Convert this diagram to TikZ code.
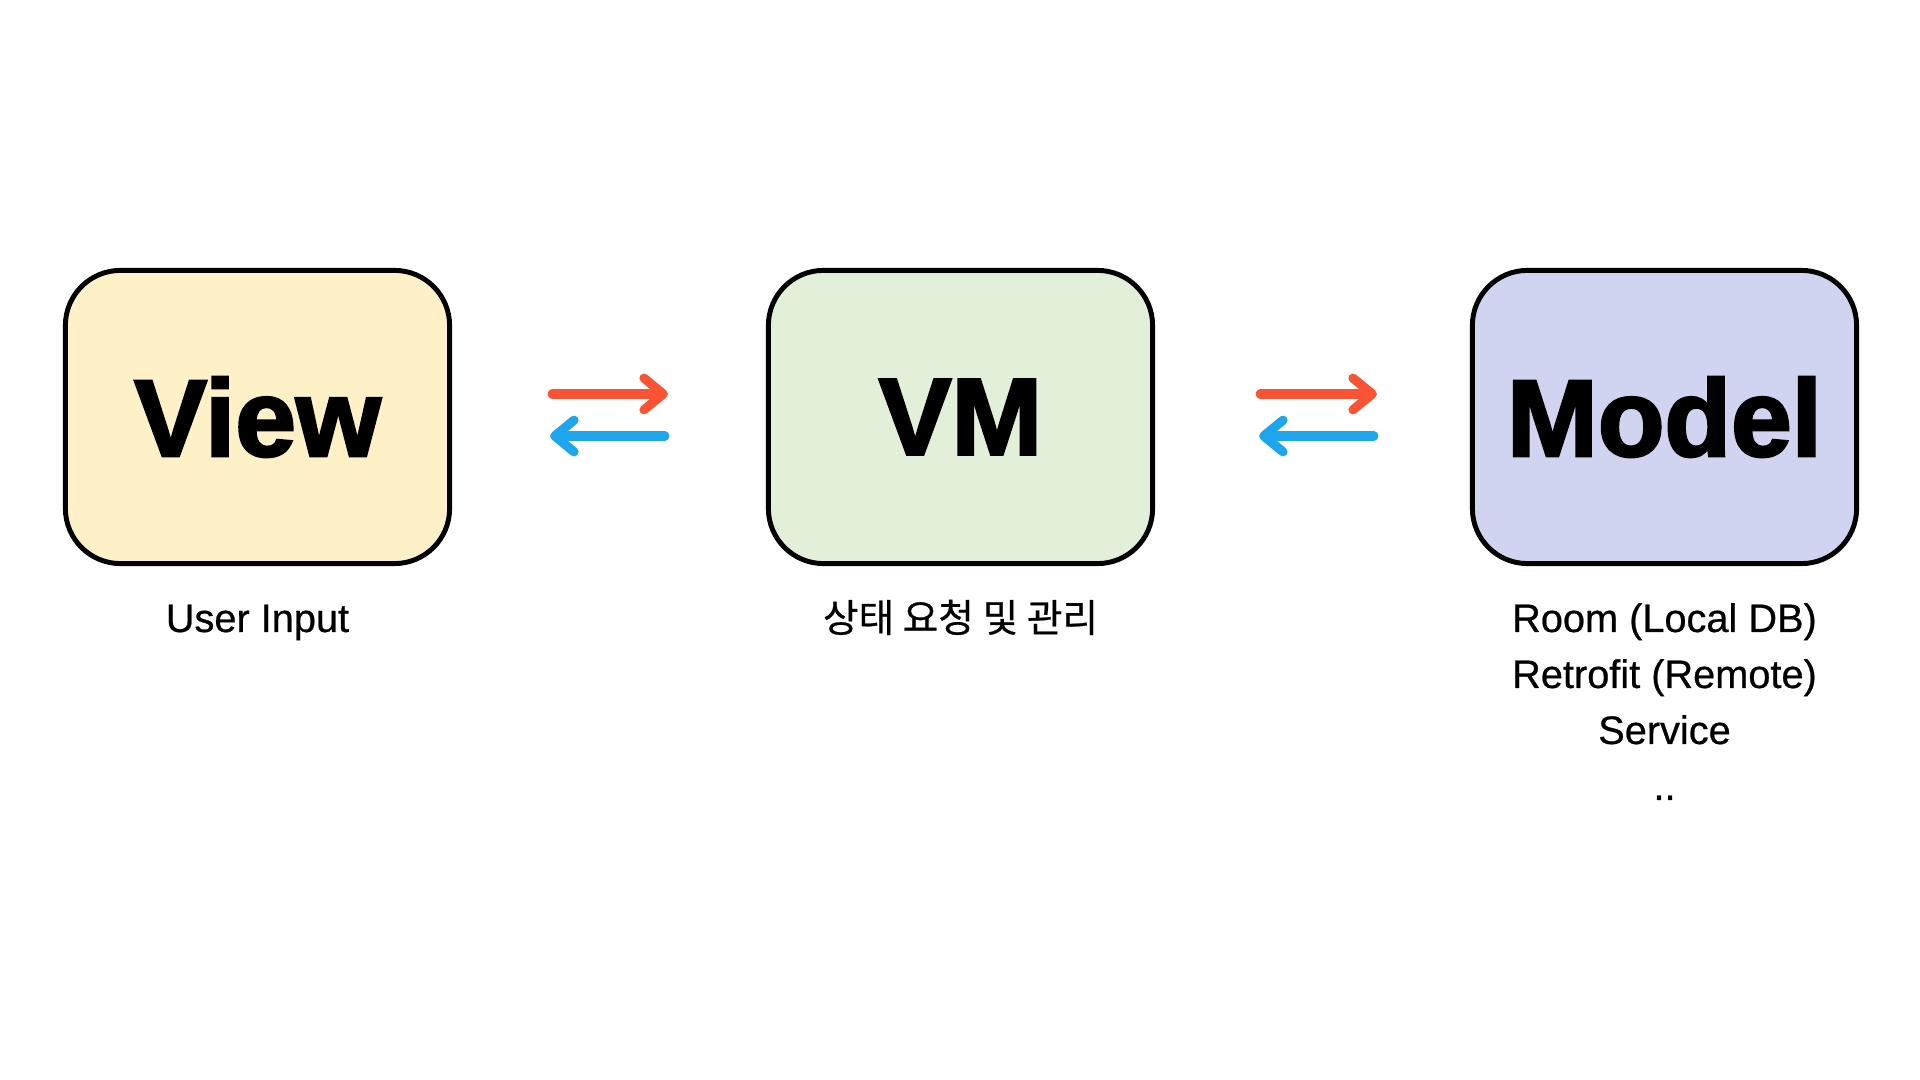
\documentclass[tikz,border=0pt]{standalone}
\usepackage{fontspec}
\usetikzlibrary{arrows.meta}
\newfontfamily\heavyfont[FakeBold=2.5]{Liberation Sans}
\newfontfamily\labelfont[FakeBold=0.6]{Liberation Sans}
\newfontfamily\cjkfont[FakeBold=0.6]{Noto Sans CJK KR}
\definecolor{viewfill}{HTML}{FEF0C7}
\definecolor{vmfill}{HTML}{E2F0D9}
\definecolor{modelfill}{HTML}{D0D4F0}
\definecolor{fwdred}{HTML}{FA5333}
\definecolor{backblue}{HTML}{1DA5EE}
\begin{document}
\begin{tikzpicture}[x=0.01cm,y=-0.01cm,
  box/.style={draw=black, line width=1.4pt, rounded corners=0.55cm,
    minimum width=3.84cm, minimum height=2.93cm, inner sep=0pt,
    font=\heavyfont\bfseries\fontsize{31}{31}\selectfont},
  lbl/.style={anchor=base, inner sep=0pt, font=\labelfont\fontsize{11.3}{16}\selectfont},
  klbl/.style={anchor=base, inner sep=0pt, font=\cjkfont\fontsize{11}{16}\selectfont},
  fwd/.style={draw=fwdred, line width=2.6pt, line cap=round,
    -{Straight Barb[length=5.5pt,width=9pt,line cap=round,line join=round]}},
  back/.style={draw=backblue, line width=2.6pt, line cap=round,
    -{Straight Barb[length=5.5pt,width=9pt,line cap=round,line join=round]}}
]
\useasboundingbox (0,0) rectangle (1920,1080);
\fill[white] (0,0) rectangle (1920,1080);

\node[box, fill=viewfill] (view) at (257.5,417) {View};
\node[box, fill=vmfill] (vm) at (960.5,417) {VM};
\node[box, fill=modelfill] (model) at (1664.5,417) {Model};

\node[lbl] (viewlbl) at (257.5,632) {User Input};
\node[klbl] (vmlbl) at (960.5,632) {상태 요청 및 관리};
\node[lbl] (m1) at (1664.5,632) {Room (Local DB)};
\node[lbl] (m2) at (1664.5,688) {Retrofit (Remote)};
\node[lbl] (m3) at (1664.5,744) {Service};
\node[lbl] (m4) at (1664.5,800) {..};

\draw[fwd, shorten <=1.0cm, shorten >=0.98cm]
  ([yshift=0.23cm]view.east) -- ([yshift=0.23cm]vm.west);
\draw[back, shorten <=1.01cm, shorten >=0.98cm]
  ([yshift=-0.19cm]vm.west) -- ([yshift=-0.19cm]view.east);
\draw[fwd, shorten <=1.05cm, shorten >=0.93cm]
  ([yshift=0.23cm]vm.east) -- ([yshift=0.23cm]model.west);
\draw[back, shorten <=0.96cm, shorten >=1.04cm]
  ([yshift=-0.19cm]model.west) -- ([yshift=-0.19cm]vm.east);
\end{tikzpicture}
\end{document}
